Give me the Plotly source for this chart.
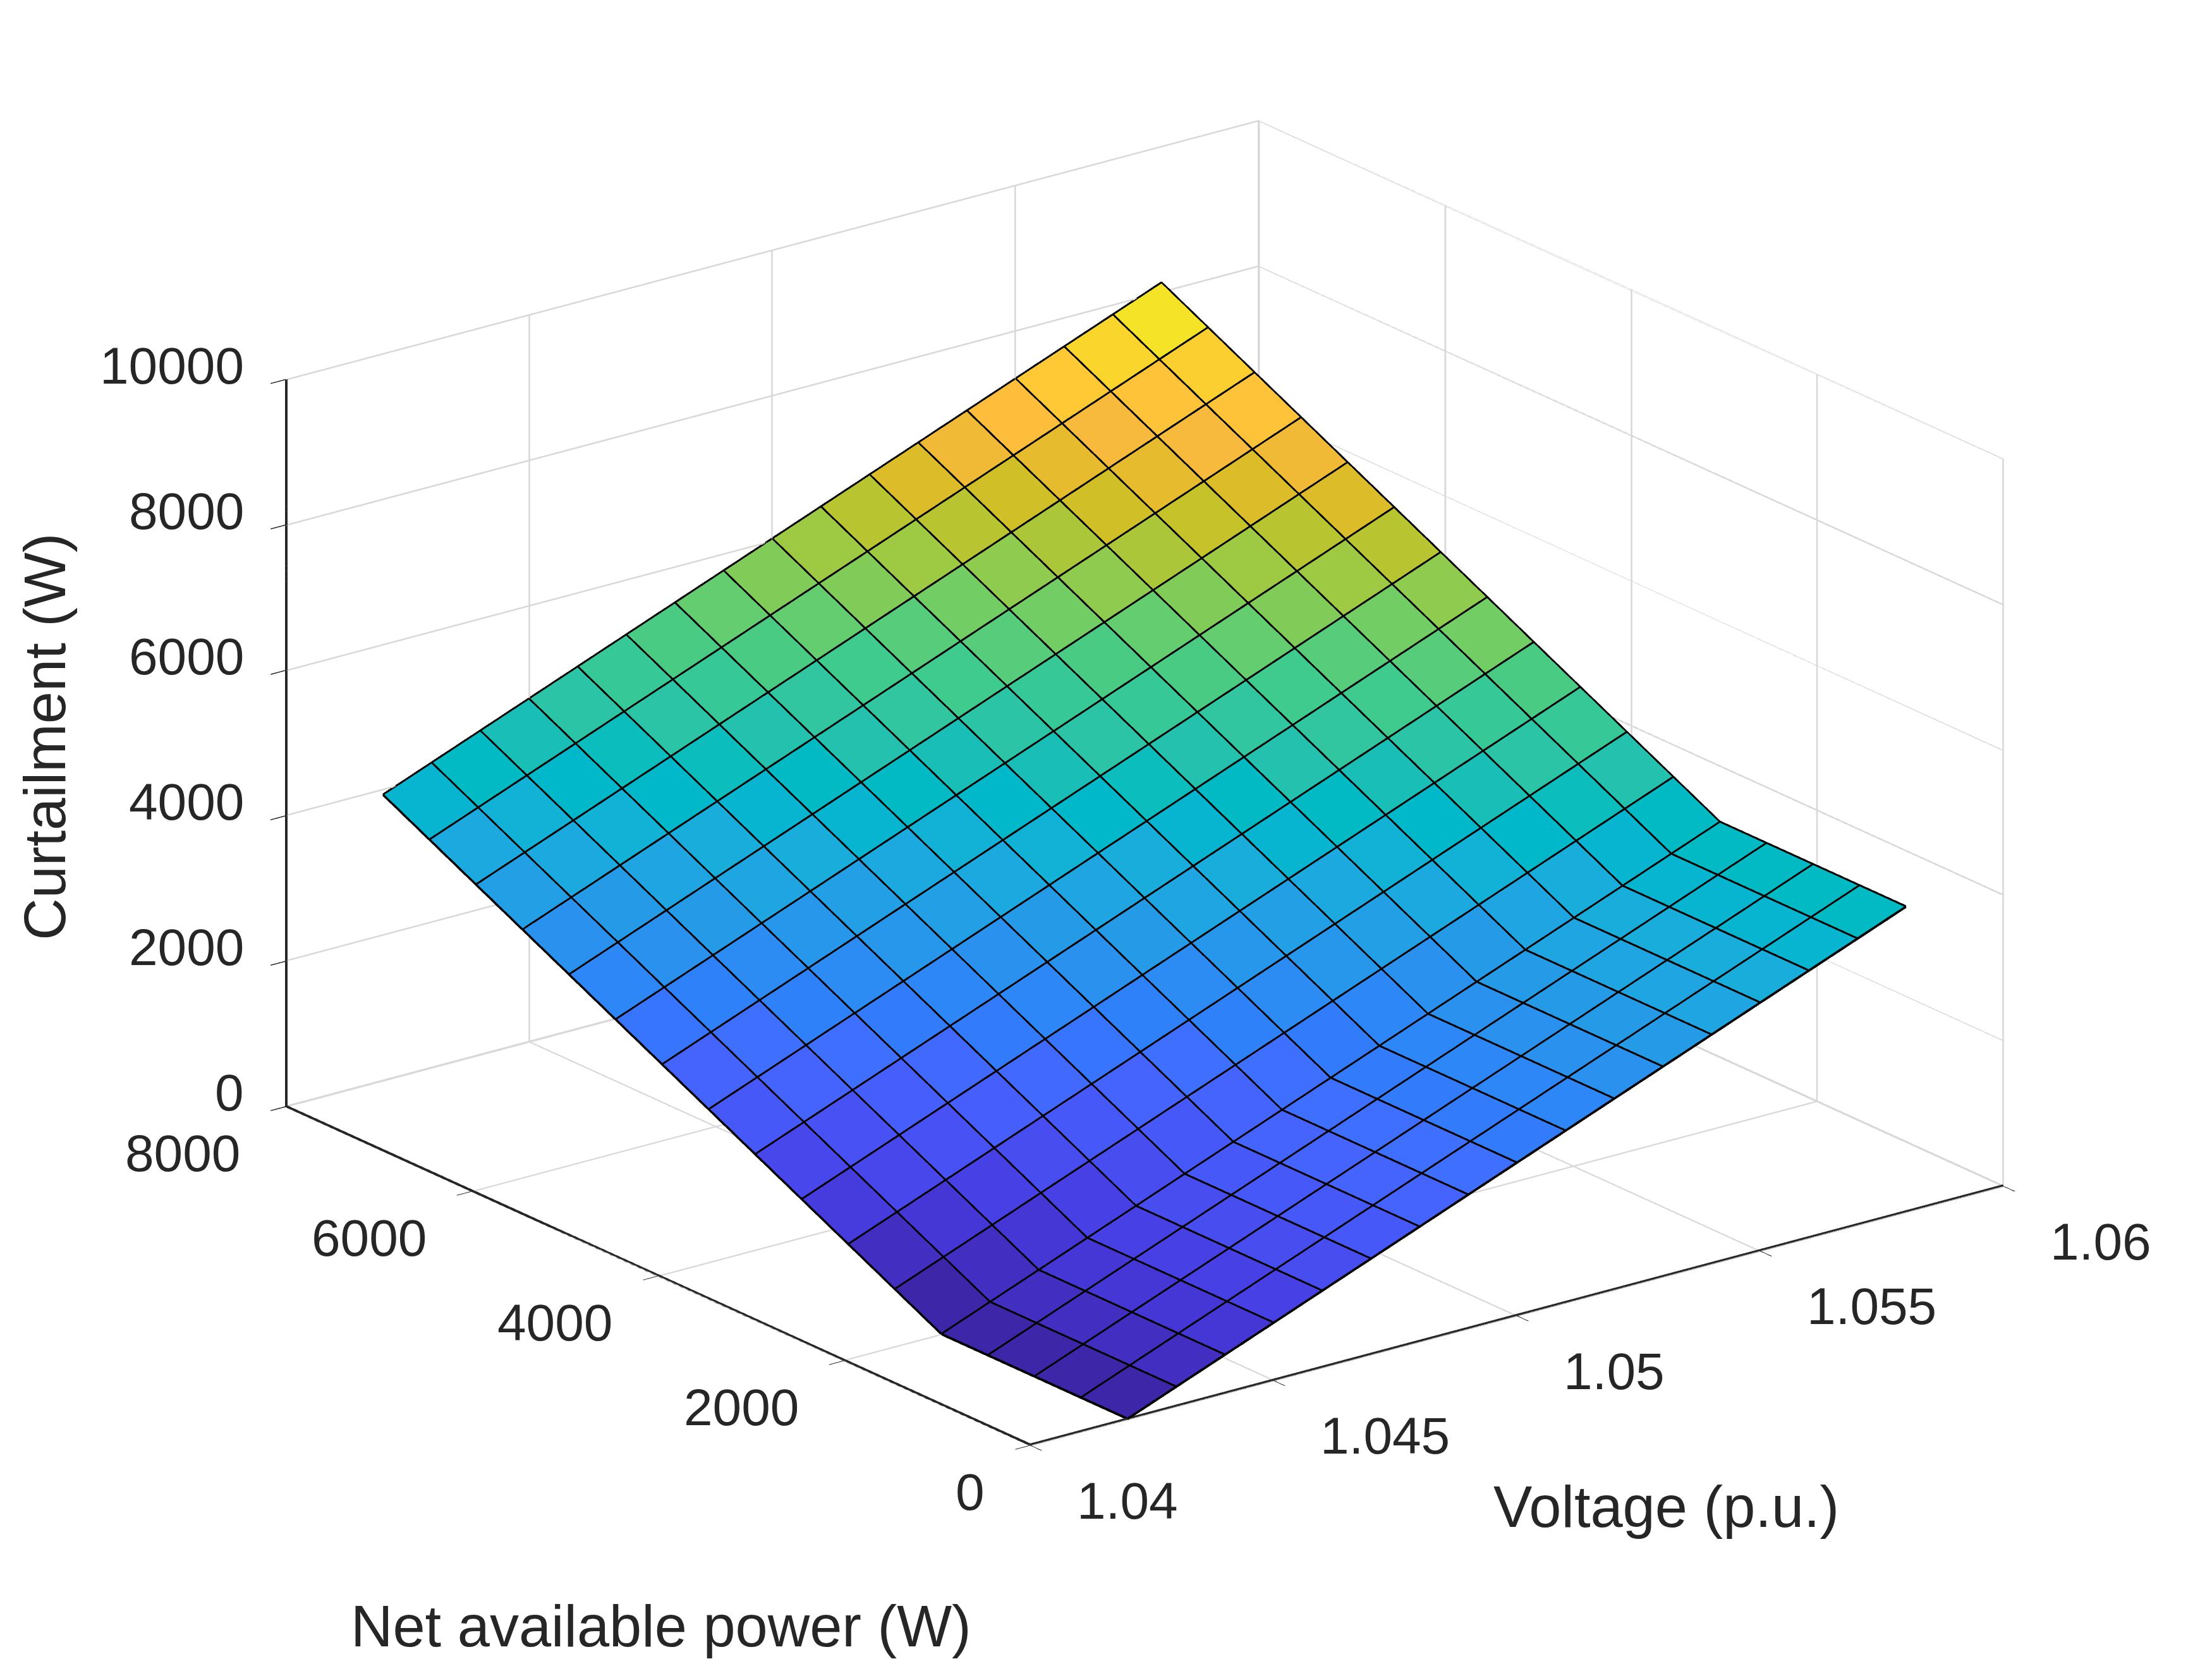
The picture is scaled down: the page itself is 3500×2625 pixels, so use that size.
import plotly.graph_objects as go

# ---------------- data ----------------
voltage = [1.042, 1.043, 1.044, 1.045, 1.046, 1.047, 1.048, 1.049, 1.050,
           1.051, 1.052, 1.053, 1.054, 1.055, 1.056, 1.057, 1.058]
power = [0, 500, 1000, 1500, 2000, 2500, 3000, 3500, 4000,
         4500, 5000, 5500, 6000, 6500, 7000, 7500, 8000]
# curtailment[j][i]: row j = power[j], column i = voltage[i]
curtailment = [
    [0, 262, 524, 786, 1048, 1310, 1572, 1834, 2096, 2358, 2620, 2882, 3144, 3406, 3668, 3930, 4192],
    [0, 262, 524, 786, 1048, 1310, 1572, 1834, 2096, 2358, 2620, 2882, 3144, 3406, 3668, 3930, 4192],
    [0, 262, 524, 786, 1048, 1310, 1572, 1834, 2096, 2358, 2620, 2882, 3144, 3406, 3668, 3930, 4192],
    [0, 262, 524, 786, 1048, 1310, 1572, 1834, 2096, 2358, 2620, 2882, 3144, 3406, 3668, 3930, 4192],
    [0, 262, 524, 786, 1048, 1310, 1572, 1834, 2096, 2358, 2620, 2882, 3144, 3406, 3668, 3930, 4192],
    [327, 589, 851, 1113, 1375, 1637, 1899, 2161, 2423, 2685, 2947, 3209, 3471, 3733, 3995, 4257, 4519],
    [654, 916, 1178, 1440, 1702, 1964, 2226, 2488, 2750, 3012, 3274, 3536, 3798, 4060, 4322, 4584, 4846],
    [981, 1243, 1505, 1767, 2029, 2291, 2553, 2815, 3077, 3339, 3601, 3863, 4125, 4387, 4649, 4911, 5173],
    [1308, 1570, 1832, 2094, 2356, 2618, 2880, 3142, 3404, 3666, 3928, 4190, 4452, 4714, 4976, 5238, 5500],
    [1635, 1897, 2159, 2421, 2683, 2945, 3207, 3469, 3731, 3993, 4255, 4517, 4779, 5041, 5303, 5565, 5827],
    [1962, 2224, 2486, 2748, 3010, 3272, 3534, 3796, 4058, 4320, 4582, 4844, 5106, 5368, 5630, 5892, 6154],
    [2289, 2551, 2813, 3075, 3337, 3599, 3861, 4123, 4385, 4647, 4909, 5171, 5433, 5695, 5957, 6219, 6481],
    [2616, 2878, 3140, 3402, 3664, 3926, 4188, 4450, 4712, 4974, 5236, 5498, 5760, 6022, 6284, 6546, 6808],
    [2943, 3205, 3467, 3729, 3991, 4253, 4515, 4777, 5039, 5301, 5563, 5825, 6087, 6349, 6611, 6873, 7135],
    [3270, 3532, 3794, 4056, 4318, 4580, 4842, 5104, 5366, 5628, 5890, 6152, 6414, 6676, 6938, 7200, 7462],
    [3597, 3859, 4121, 4383, 4645, 4907, 5169, 5431, 5693, 5955, 6217, 6479, 6741, 7003, 7265, 7527, 7789],
    [3924, 4186, 4448, 4710, 4972, 5234, 5496, 5758, 6020, 6282, 6544, 6806, 7068, 7330, 7592, 7854, 8116],
]
voltage_ticks = [1.04, 1.045, 1.05, 1.055, 1.06]
voltage_ticklabels = ["1.04", "1.045", "1.05", "1.055", "1.06"]
power_ticks = [0, 2000, 4000, 6000, 8000]
curtail_ticks = [0, 2000, 4000, 6000, 8000, 10000]
voltage_range = [1.04, 1.06]
power_range = [0, 8000]
curtail_range = [0, 10000]

# ---------------- style ----------------
PARULA = [
    (0.2422, 0.1504, 0.6603), (0.2504, 0.1650, 0.7076), (0.2578, 0.1818, 0.7511), (0.2647, 0.1978, 0.7952),
    (0.2706, 0.2147, 0.8364), (0.2751, 0.2342, 0.8710), (0.2783, 0.2559, 0.8991), (0.2803, 0.2782, 0.9221),
    (0.2813, 0.3006, 0.9414), (0.2810, 0.3228, 0.9579), (0.2795, 0.3447, 0.9717), (0.2760, 0.3667, 0.9829),
    (0.2699, 0.3892, 0.9906), (0.2602, 0.4123, 0.9952), (0.2440, 0.4358, 0.9988), (0.2206, 0.4603, 0.9973),
    (0.1963, 0.4847, 0.9892), (0.1834, 0.5074, 0.9798), (0.1786, 0.5289, 0.9682), (0.1764, 0.5499, 0.9520),
    (0.1687, 0.5703, 0.9359), (0.1540, 0.5902, 0.9218), (0.1460, 0.6091, 0.9079), (0.1380, 0.6276, 0.8973),
    (0.1248, 0.6459, 0.8883), (0.1113, 0.6635, 0.8763), (0.0952, 0.6798, 0.8598), (0.0689, 0.6948, 0.8394),
    (0.0297, 0.7082, 0.8163), (0.0036, 0.7203, 0.7917), (0.0067, 0.7312, 0.7660), (0.0433, 0.7411, 0.7394),
    (0.0964, 0.7500, 0.7120), (0.1408, 0.7584, 0.6842), (0.1717, 0.7670, 0.6554), (0.1938, 0.7758, 0.6251),
    (0.2161, 0.7843, 0.5923), (0.2470, 0.7918, 0.5567), (0.2906, 0.7973, 0.5188), (0.3406, 0.8008, 0.4789),
    (0.3909, 0.8029, 0.4354), (0.4456, 0.8024, 0.3909), (0.5044, 0.7993, 0.3480), (0.5616, 0.7942, 0.3045),
    (0.6174, 0.7876, 0.2612), (0.6720, 0.7793, 0.2227), (0.7242, 0.7698, 0.1910), (0.7738, 0.7598, 0.1646),
    (0.8203, 0.7498, 0.1535), (0.8634, 0.7406, 0.1596), (0.9035, 0.7330, 0.1774), (0.9393, 0.7288, 0.2100),
    (0.9728, 0.7298, 0.2394), (0.9956, 0.7434, 0.2371), (0.9970, 0.7659, 0.2199), (0.9952, 0.7893, 0.2028),
    (0.9892, 0.8136, 0.1885), (0.9786, 0.8386, 0.1766), (0.9676, 0.8639, 0.1643), (0.9610, 0.8890, 0.1537),
    (0.9597, 0.9135, 0.1423), (0.9628, 0.9373, 0.1265), (0.9691, 0.9606, 0.1064), (0.9769, 0.9839, 0.0805),
]
FONT = "Liberation Sans"
TXT = "rgb(38,38,38)"
GRID = "rgb(216,216,216)"
TICK_SIZE = 82
TITLE_SIZE = 92
ZOOM = 1.568
# WebGL draws 1-px lines only; lines are thickened by drawing a few copies
# shifted by about one screen pixel (values in data units).
EDGE_LIFT = [0, 9, 18]                 # W, upward copies of the mesh edges
AXIS_LIFT = [0, 9, 18]                 # W, for the two floor axes
ZAXIS_SHIFT = [0, 0.000013, 0.000026]  # p.u., for the vertical axis
PX_V, PX_P, PX_C = 0.000013, 7, 9      # about one screen pixel along each axis
GRID_COPIES = [0, 1]

nv, npow = len(voltage), len(power)
zall = [v for row in curtailment for v in row]
cmin, cmax = min(zall), max(zall)


def parula(val):
    idx = int((val - cmin) / (cmax - cmin) * len(PARULA))
    idx = max(0, min(len(PARULA) - 1, idx))
    r, g, b = PARULA[idx]
    return f"rgb({round(r*255)},{round(g*255)},{round(b*255)})"


# ---- faceted surface as a mesh with one flat colour per cell ----
vx, vy, vz = [], [], []
for j in range(npow):
    for i in range(nv):
        vx.append(voltage[i]); vy.append(power[j]); vz.append(curtailment[j][i])

ti, tj, tk, fcol = [], [], [], []
for j in range(npow - 1):
    for i in range(nv - 1):
        a = j * nv + i
        b = a + 1
        c = a + nv
        d = c + 1
        col = parula(curtailment[j][i])
        ti += [a, a]; tj += [b, d]; tk += [d, c]
        fcol += [col, col]

surface = go.Mesh3d(
    x=vx, y=vy, z=vz, i=ti, j=tj, k=tk,
    facecolor=fcol, flatshading=True,
    lighting=dict(ambient=1.0, diffuse=0.0, specular=0.0, roughness=1.0, fresnel=0.0),
    hoverinfo="skip", showscale=False,
)

# ---- black mesh edges ----
ex, ey, ez = [], [], []
for lift in EDGE_LIFT:
    for j in range(npow):
        for i in range(nv):
            ex.append(voltage[i]); ey.append(power[j]); ez.append(curtailment[j][i] + lift)
        ex.append(None); ey.append(None); ez.append(None)
    for i in range(nv):
        for j in range(npow):
            ex.append(voltage[i]); ey.append(power[j]); ez.append(curtailment[j][i] + lift)
        ex.append(None); ey.append(None); ez.append(None)
edges = go.Scatter3d(x=ex, y=ey, z=ez, mode="lines",
                     line=dict(color="black", width=4),
                     hoverinfo="skip", showlegend=False)

# ---- grid lines on the floor and the two back walls (from the tick lists) ----
v0, v1 = voltage_range
p0, p1 = power_range
c0, c1 = curtail_range
gx, gy, gz = [], [], []


def seg(xa, ya, za, xb, yb, zb, X, Y, Z):
    X += [xa, xb, None]; Y += [ya, yb, None]; Z += [za, zb, None]


def inward(val, lo, hi, step, k):
    # shift a grid line k pixels towards the inside of the box
    return val + k * step if val < (lo + hi) / 2 else val - k * step


for k in GRID_COPIES:
    for v in voltage_ticks:
        vv = inward(v, v0, v1, PX_V, k)
        seg(vv, p0, c0, vv, p1, c0, gx, gy, gz)      # floor
        seg(vv, p1, c0, vv, p1, c1, gx, gy, gz)      # back wall (P = max)
    for p in power_ticks:
        pp = inward(p, p0, p1, PX_P, k)
        seg(v0, pp, c0, v1, pp, c0, gx, gy, gz)      # floor
        seg(v1, pp, c0, v1, pp, c1, gx, gy, gz)      # back wall (V = max)
    for c in curtail_ticks:
        cc = inward(c, c0, c1, PX_C, k)
        seg(v0, p1, cc, v1, p1, cc, gx, gy, gz)
        seg(v1, p0, cc, v1, p1, cc, gx, gy, gz)
grid = go.Scatter3d(x=gx, y=gy, z=gz, mode="lines",
                    line=dict(color=GRID, width=3),
                    hoverinfo="skip", showlegend=False)

# ---- the three dark axis lines (MATLAB box edges that carry ticks) ----
ax_x, ax_y, ax_z = [], [], []
for lift in AXIS_LIFT:
    seg(v0, p0, c0 + lift, v1, p0, c0 + lift, ax_x, ax_y, ax_z)
    seg(v0, p0, c0 + lift, v0, p1, c0 + lift, ax_x, ax_y, ax_z)
for dv in ZAXIS_SHIFT:
    seg(v0 + dv, p1, c0, v0 + dv, p1, c1, ax_x, ax_y, ax_z)
axes_lines = go.Scatter3d(x=ax_x, y=ax_y, z=ax_z, mode="lines",
                          line=dict(color=TXT, width=4),
                          hoverinfo="skip", showlegend=False)

fig = go.Figure([grid, axes_lines, surface, edges])

axis_common = dict(
    showbackground=False, showgrid=False, showline=False,
    ticks="outside", ticklen=30, tickwidth=3, tickcolor=TXT,
    showticklabels=False,
    zeroline=False, showspikes=False, mirror=False,
    title=dict(text=""),
)

tick_font = dict(family=FONT, size=TICK_SIZE, color=TXT)
scene_annotations = []
for v, t in zip(voltage_ticks, voltage_ticklabels):
    scene_annotations.append(dict(x=v, y=p0, z=c0, text=t, showarrow=False,
                                  xanchor="left", yanchor="top", xshift=72, yshift=-40,
                                  font=tick_font))
for p in power_ticks:
    scene_annotations.append(dict(x=v0, y=p, z=c0, text=str(p), showarrow=False,
                                  xanchor="right", yanchor="top", xshift=-70, yshift=-26,
                                  font=tick_font))
for c in curtail_ticks:
    scene_annotations.append(dict(x=v0, y=p1, z=c, text=str(c), showarrow=False,
                                  xanchor="right", yanchor="middle", xshift=-64, yshift=22,
                                  font=tick_font))

fig.update_layout(
    width=3500, height=2625,
    paper_bgcolor="white",
    margin=dict(l=0, r=0, t=0, b=0),
    showlegend=False,
    scene=dict(
        domain=dict(x=[0.0327, 0.9977], y=[0.058, 1.0]),
        xaxis=dict(range=voltage_range, tickvals=voltage_ticks, **axis_common),
        yaxis=dict(range=power_range, tickvals=power_ticks, **axis_common),
        zaxis=dict(range=curtail_range, tickvals=curtail_ticks, **axis_common),
        aspectmode="manual",
        aspectratio=dict(x=ZOOM, y=ZOOM, z=0.633 * ZOOM),
        camera=dict(
            projection=dict(type="orthographic"),
            eye=dict(x=-2.28, y=-2.98, z=1.388),
            up=dict(x=0, y=0, z=1),
            center=dict(x=0, y=0, z=-0.005),
        ),
        annotations=scene_annotations,
    ),
    annotations=[
        dict(text="Voltage (p.u.)", x=0.751, y=0.095, xref="paper", yref="paper",
             xanchor="center", yanchor="middle",
             showarrow=False, font=dict(family=FONT, size=TITLE_SIZE, color=TXT)),
        dict(text="Net available power (W)", x=0.2965, y=0.023, xref="paper", yref="paper",
             xanchor="center", yanchor="middle",
             showarrow=False, font=dict(family=FONT, size=TITLE_SIZE, color=TXT)),
        dict(text="Curtailment (W)", x=0.018, y=0.559, xref="paper", yref="paper",
             xanchor="center", yanchor="middle",
             showarrow=False, textangle=-90, font=dict(family=FONT, size=TITLE_SIZE, color=TXT)),
    ],
)

fig.write_html("out.html", config={"displayModeBar": False, "plotGlPixelRatio": 1})
